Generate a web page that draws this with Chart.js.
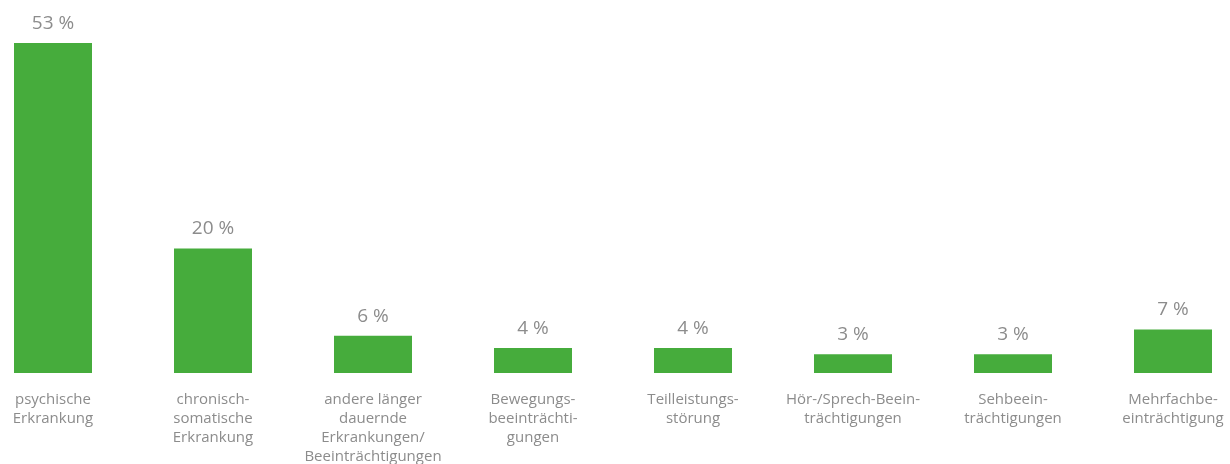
<!DOCTYPE html>
<html>
<head>
<meta charset="utf-8">
<script src="https://cdn.jsdelivr.net/npm/chart.js@4"></script>
<style>
  html, body { margin: 0; padding: 0; background: #fff; overflow: hidden; }
  #wrap { position: absolute; left: -27px; top: 0; width: 1280px; height: 464px; }
</style>
</head>
<body>
<div id="wrap"><canvas id="chart"></canvas></div>
<script>
// categories (already split into lines as in the original)
const categories = [
  ['psychische', 'Erkrankung'],
  ['chronisch-', 'somatische', 'Erkrankung'],
  ['andere länger', 'dauernde', 'Erkrankungen/', 'Beeinträchtigungen'],
  ['Bewegungs-', 'beeinträchti-', 'gungen'],
  ['Teilleistungs-', 'störung'],
  ['Hör-/Sprech-Beein-', 'trächtigungen'],
  ['Sehbeein-', 'trächtigungen'],
  ['Mehrfachbe-', 'einträchtigung']
];
const shares = [53, 20, 6, 4, 4, 3, 3, 7];

const green = '#46ac3c';
const grey = '#8c8c8c';

// percent labels above each bar
const valueLabels = {
  id: 'valueLabels',
  afterDatasetsDraw(chart) {
    const ctx = chart.ctx;
    const meta = chart.getDatasetMeta(0);
    ctx.save();
    ctx.font = '19px "Open Sans", sans-serif';
    ctx.fillStyle = grey;
    ctx.textAlign = 'center';
    ctx.textBaseline = 'alphabetic';
    meta.data.forEach((bar, i) => {
      ctx.fillText(shares[i] + ' %', bar.x, bar.y - 14);
    });
    ctx.restore();
  }
};

new Chart(document.getElementById('chart'), {
  type: 'bar',
  data: {
    labels: categories,
    datasets: [{
      data: shares,
      backgroundColor: green,
      barPercentage: 0.4875,
      categoryPercentage: 1
    }]
  },
  options: {
    responsive: true,
    maintainAspectRatio: false,
    animation: false,
    layout: { padding: { top: 43, left: 0, right: 0, bottom: 0 } },
    plugins: { legend: { display: false }, tooltip: { enabled: false } },
    scales: {
      x: {
        grid: { display: false, drawTicks: false },
        border: { display: false },
        ticks: {
          color: grey,
          padding: 17,
          maxRotation: 0,
          autoSkip: false,
          font: { family: '"Open Sans", sans-serif', size: 15, lineHeight: 1.27 }
        },
        afterFit: s => { s.height = 91; }
      },
      y: {
        display: false,
        min: 0,
        max: 53
      }
    }
  },
  plugins: [valueLabels]
});
</script>
</body>
</html>
